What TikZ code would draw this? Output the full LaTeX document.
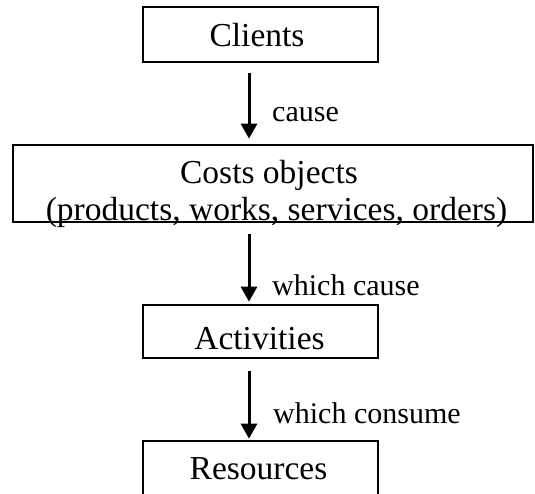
\documentclass[tikz,border=0pt]{standalone}
\usepackage{fontspec}
\setmainfont{Liberation Serif}
\usetikzlibrary{arrows.meta}
\begin{document}
\begin{tikzpicture}[x=1pt,y=-1pt,
  boxnode/.style={draw=black, line width=2.7pt, inner sep=0pt, fill=white},
  boxtext/.style={anchor=base, inner sep=0pt, font=\fontsize{33.5}{37}\selectfont},
  lbl/.style={anchor=base west, inner sep=0pt, font=\fontsize{30}{34}\selectfont},
  arr/.style={line width=3pt, -{Triangle[width=16pt,length=15pt]}}]
\useasboundingbox (0,0) rectangle (535,493);
% boxes
\node[boxnode, minimum width=235pt, minimum height=55pt] (clients) at (260.5,34.5) {};
\node[boxnode, minimum width=520pt, minimum height=77pt] (costs) at (273,183.5) {};
\node[boxnode, minimum width=235pt, minimum height=53pt] (activities) at (260.5,331.5) {};
\node[boxnode, minimum width=235pt, minimum height=55pt] (resources) at (260.5,468.5) {};
% texts
\node[boxtext] (tclients) at (257,46) {Clients};
\node[boxtext] (tcosts1) at (269,183) {Costs objects};
\node[boxtext] (tcosts2) at (276.5,220) {(products, works, services, orders)};
\node[boxtext] (tact) at (259.5,349) {Activities};
\node[boxtext] (tres) at (258.5,479) {Resources};
% arrows
\coordinate (ax) at (249,0);
\draw[arr, shorten <=10pt, shorten >=5pt] (clients.south -| ax) -- (costs.north -| ax);
\draw[arr, shorten <=11pt, shorten >=2pt] (costs.south -| ax) -- (activities.north -| ax);
\draw[arr, shorten <=12pt, shorten >=1pt] (activities.south -| ax) -- (resources.north -| ax);
% labels
\node[lbl] (l1) at (272,121) {cause};
\node[lbl] (l2) at (272,295) {which cause};
\node[lbl] (l3) at (273,423) {which consume};
\end{tikzpicture}
\end{document}
